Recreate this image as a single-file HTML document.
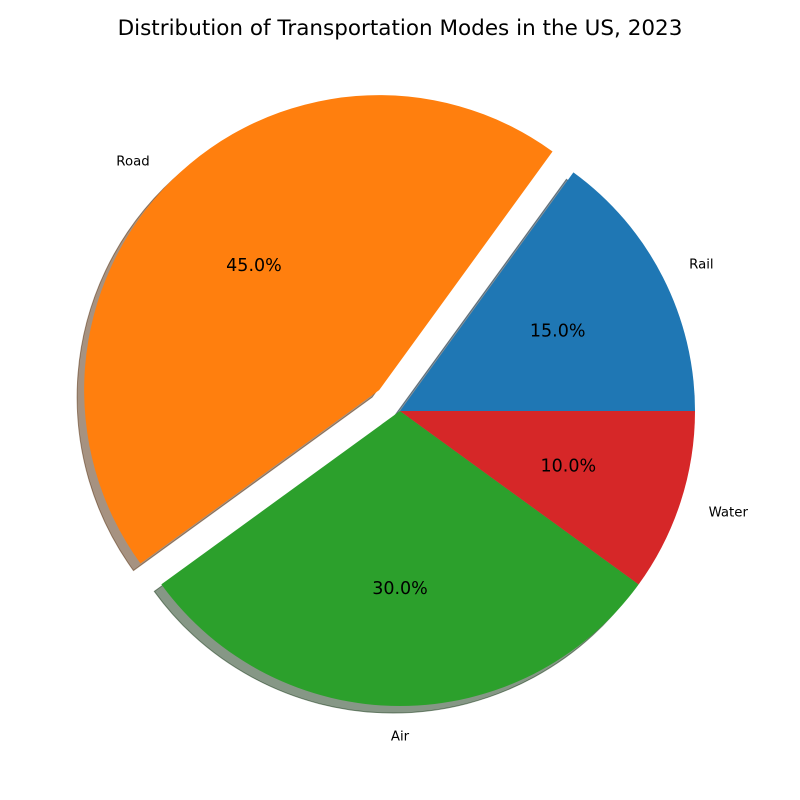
<!DOCTYPE html>
<html><head><meta charset="utf-8"><style>
body{margin:0;background:#fff;}
svg{display:block;font-family:"DejaVu Sans","Liberation Sans",sans-serif;}
</style></head><body>
<svg id="chart" width="800" height="800">
<text x="400" y="35" text-anchor="middle" font-size="21.5" fill="#000">Distribution of Transportation Modes in the US, 2023</text>
<g id="shadows"></g><g id="slices"></g><g id="labels"></g>
</svg>
<script>
const categories = ["Rail","Road","Air","Water"];
const values = [15,45,30,10];
const explode = [0,0.1,0,0];
const colors = ["#1f77b4","#ff7f0e","#2ca02c","#d62728"];

const cx=400, cy=411, R=295, NS="http://www.w3.org/2000/svg";
const total = values.reduce((a,b)=>a+b,0);
function pt(x,y,r,a){return [x+r*Math.cos(a), y-r*Math.sin(a)];}
function wedge(x,y,a0,a1){
  const p0=pt(x,y,R,a0), p1=pt(x,y,R,a1), large=(a1-a0)>Math.PI?1:0;
  return `M${x},${y} L${p0[0]},${p0[1]} A${R},${R} 0 ${large} 0 ${p1[0]},${p1[1]} Z`;
}
function dark(hex){const n=parseInt(hex.slice(1),16);return `rgb(${((n>>16)&255)*0.3},${((n>>8)&255)*0.3},${(n&255)*0.3})`;}
const sh=document.getElementById('shadows'), sl=document.getElementById('slices'), lb=document.getElementById('labels');
let acc=0;
values.forEach((v,i)=>{
  const a0=acc/total*2*Math.PI; acc+=v; const a1=acc/total*2*Math.PI; const am=(a0+a1)/2;
  const [x,y]=pt(cx,cy,R*explode[i],am);
  const s=document.createElementNS(NS,'path');
  s.setAttribute('d',wedge(x-7,y+7,a0,a1));
  s.setAttribute('fill',dark(colors[i])); s.setAttribute('fill-opacity','0.5');
  s.setAttribute('stroke',dark(colors[i])); s.setAttribute('stroke-opacity','0.5');
  
  
  sh.appendChild(s);
  const p=document.createElementNS(NS,'path');
  p.setAttribute('d',wedge(x,y,a0,a1)); p.setAttribute('fill',colors[i]);
  
  
  sl.appendChild(p);
  const [lx,ly]=pt(x,y,R*1.1,am);
  const t=document.createElementNS(NS,'text');
  t.setAttribute('x',lx); t.setAttribute('y',ly+5); t.setAttribute('font-size','13.3');
  t.setAttribute('text-anchor',Math.cos(am)>0?'start':'end');
  if(Math.abs(Math.cos(am))<0.05) t.setAttribute('text-anchor','middle');
  t.textContent=categories[i];
  
  
  lb.appendChild(t);
  const [px,py]=pt(x,y,R*0.6,am);
  const q=document.createElementNS(NS,'text');
  q.setAttribute('x',px); q.setAttribute('y',py+6); q.setAttribute('font-size','17.5');
  q.setAttribute('text-anchor','middle');
  q.textContent=(v/total*100).toFixed(1)+'%';
  
  
  lb.appendChild(q);
});
</script>
</body></html>
